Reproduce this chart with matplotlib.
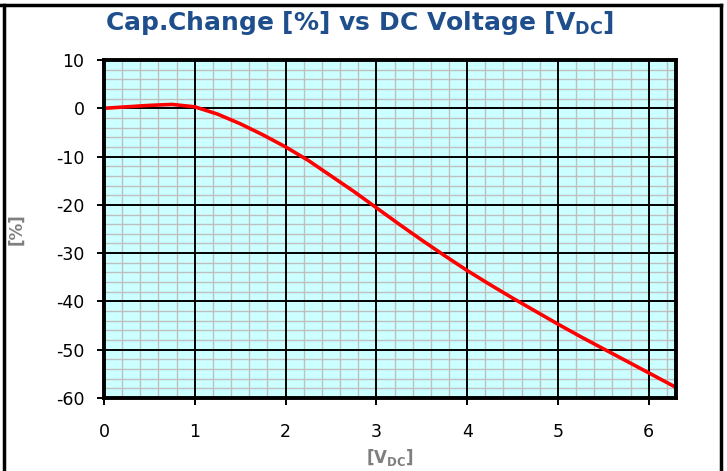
import numpy as np
import matplotlib.pyplot as plt
from matplotlib.lines import Line2D

plt.rcParams['axes.unicode_minus'] = False

# curve
volts = [0, 0.25, 0.5, 0.75, 1.0, 1.25, 1.5, 1.75, 2.0, 2.25, 2.5, 2.75, 3.0,
         3.25, 3.5, 3.75, 4.0, 4.25, 4.5, 4.75, 5.0, 5.25, 5.5, 5.75, 6.0, 6.3]
cap_change = [0, 0.3, 0.6, 0.8, 0.3, -1.2, -3.2, -5.5, -8.0, -10.8, -14.0, -17.2, -20.6,
              -24.0, -27.3, -30.5, -33.6, -36.5, -39.3, -42.0, -44.7, -47.3, -49.8, -52.3, -54.8, -57.8]
xticks = [0, 1, 2, 3, 4, 5, 6]
yticks = [10, 0, -10, -20, -30, -40, -50, -60]

fig = plt.figure(figsize=(7.27, 4.71), dpi=100)
ax = fig.add_axes([104/727, 1-398/471, (676-104)/727, (398-60)/471])
ax.set_facecolor('#CCFFFF')

# minor grid drawn by hand so it sits under the major one
xm = [v for v in np.arange(0.2, 6.3, 0.2) if abs(v - round(v)) > 1e-6]
ym = [v for v in np.arange(-58, 10, 2) if v % 10 != 0]
ax.vlines(xm, -60, 10, color='#BFBFBF', lw=1.0, zorder=1)
ax.hlines(ym, 0, 6.3, color='#BFBFBF', lw=1.0, zorder=1)

ax.plot(volts, cap_change, color='#FF0000', lw=2.6, solid_capstyle='butt', zorder=5)

ax.set_xlim(0, 6.3)
ax.set_ylim(-60, 10)
ax.set_xticks(xticks)
ax.set_yticks(yticks)
ax.set_axisbelow('line')
ax.grid(which='major', color='black', lw=1.4)
ax.tick_params(which='major', direction='out', length=5, width=1.4, labelsize=12.5)
ax.tick_params(axis='x', pad=13)
ax.tick_params(axis='y', pad=9)
for lab in ax.get_xticklabels() + ax.get_yticklabels():
    lab.set_family('DejaVu Sans')
for s in ax.spines.values():
    s.set_linewidth(2.8)
    s.set_zorder(6)

ax.set_xlabel(r'[V$_{\mathregular{DC}}$]', family='DejaVu Sans', fontweight='bold', color='#7F7F7F',
              fontsize=12, labelpad=4)
ax.set_ylabel('[%]', family='DejaVu Sans', fontweight='bold', color='#7F7F7F', fontsize=12, labelpad=22)

fig.text(0.4945, 1-30/471, r'Cap.Change [%] vs DC Voltage [V$_{\mathregular{DC}}$]',
         family='DejaVu Sans', fontweight='bold', color='#1F4E8C', fontsize=18,
         ha='center', va='baseline')

# outer frame of the chart box
fig.add_artist(Line2D([0, 721/727], [1-5/471]*2, color='black', lw=2.5, transform=fig.transFigure))
fig.add_artist(Line2D([4/727]*2, [0, 1-5/471], color='black', lw=2.5, transform=fig.transFigure))
fig.add_artist(Line2D([721/727]*2, [0, 1-5/471], color='black', lw=2.5, transform=fig.transFigure))

fig.savefig('out.png', dpi=100)
